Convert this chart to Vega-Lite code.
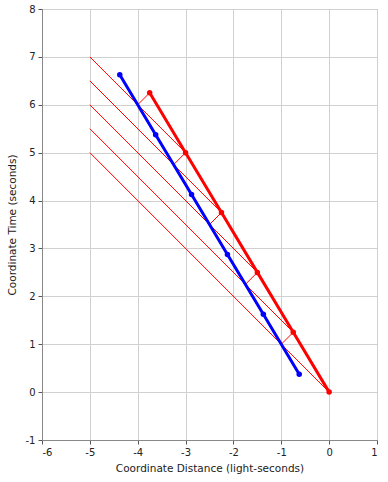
{
  "$schema": "https://vega.github.io/schema/vega-lite/v6.json",
  "width": 335,
  "height": 431,
  "autosize": {"type": "none"},
  "padding": {"left": 42, "top": 9, "right": 11, "bottom": 42},
  "background": "white",
  "config": {
    "view": {"stroke": "#888888", "strokeWidth": 1},
    "axis": {
      "labelFont": "DejaVu Sans",
      "labelFontSize": 10,
      "labelColor": "#222222",
      "labelExpr": "'' + datum.value",
      "titleFont": "DejaVu Sans",
      "titleFontSize": 10.5,
      "titleFontWeight": "normal",
      "titleColor": "#222222",
      "gridColor": "#d0d0d0",
      "gridOpacity": 1,
      "domainColor": "#888888",
      "tickColor": "#555555",
      "tickSize": 4
    }
  },
  "datasets": {
    "segs": [
      {"seg": "a", "x": -5, "t": 7}, {"seg": "a", "x": -3, "t": 5},
      {"seg": "b", "x": -5, "t": 6.5}, {"seg": "b", "x": -2.25, "t": 3.75},
      {"seg": "c", "x": -5, "t": 6}, {"seg": "c", "x": -1.5, "t": 2.5},
      {"seg": "d", "x": -5, "t": 5.5}, {"seg": "d", "x": -0.75, "t": 1.25},
      {"seg": "e", "x": -5, "t": 5}, {"seg": "e", "x": 0, "t": 0},
      {"seg": "f", "x": -4, "t": 6}, {"seg": "f", "x": -3.75, "t": 6.25},
      {"seg": "g", "x": -3.25, "t": 4.75}, {"seg": "g", "x": -3, "t": 5},
      {"seg": "h", "x": -2.5, "t": 3.5}, {"seg": "h", "x": -2.25, "t": 3.75},
      {"seg": "i", "x": -1.75, "t": 2.25}, {"seg": "i", "x": -1.5, "t": 2.5},
      {"seg": "j", "x": -1, "t": 1}, {"seg": "j", "x": -0.75, "t": 1.25}
    ],
    "red": [
      {"x": -3.75, "t": 6.25},
      {"x": -3, "t": 5},
      {"x": -2.25, "t": 3.75},
      {"x": -1.5, "t": 2.5},
      {"x": -0.75, "t": 1.25},
      {"x": 0, "t": 0}
    ],
    "blue": [
      {"x": -4.375, "t": 6.625},
      {"x": -3.625, "t": 5.375},
      {"x": -2.875, "t": 4.125},
      {"x": -2.125, "t": 2.875},
      {"x": -1.375, "t": 1.625},
      {"x": -0.625, "t": 0.375}
    ]
  },
  "layer": [
    {
      "data": {"name": "segs"},
      "mark": {"type": "line", "color": "#ff0000", "strokeWidth": 1},
      "encoding": {
        "x": {"field": "x", "type": "quantitative", "scale": {"domain": [-6, 1], "nice": false, "zero": false}, "axis": {"title": "Coordinate Distance (light-seconds)", "values": [-6, -5, -4, -3, -2, -1, 0, 1], "titlePadding": 6, "labelPadding": 3}},
        "y": {"field": "t", "type": "quantitative", "scale": {"domain": [-1, 8], "nice": false, "zero": false}, "axis": {"title": "Coordinate Time (seconds)", "values": [-1, 0, 1, 2, 3, 4, 5, 6, 7, 8], "titlePadding": 8, "labelPadding": 3}},
        "detail": {"field": "seg", "type": "nominal"}
      }
    },
    {
      "data": {"name": "red"},
      "mark": {"type": "line", "color": "#ff0000", "strokeWidth": 3, "point": {"filled": true, "size": 30, "color": "#ff0000"}},
      "encoding": {
        "x": {"field": "x", "type": "quantitative"},
        "y": {"field": "t", "type": "quantitative"}
      }
    },
    {
      "data": {"name": "blue"},
      "mark": {"type": "line", "color": "#0000ff", "strokeWidth": 3, "point": {"filled": true, "size": 30, "color": "#0000ff"}},
      "encoding": {
        "x": {"field": "x", "type": "quantitative"},
        "y": {"field": "t", "type": "quantitative"}
      }
    }
  ]
}
